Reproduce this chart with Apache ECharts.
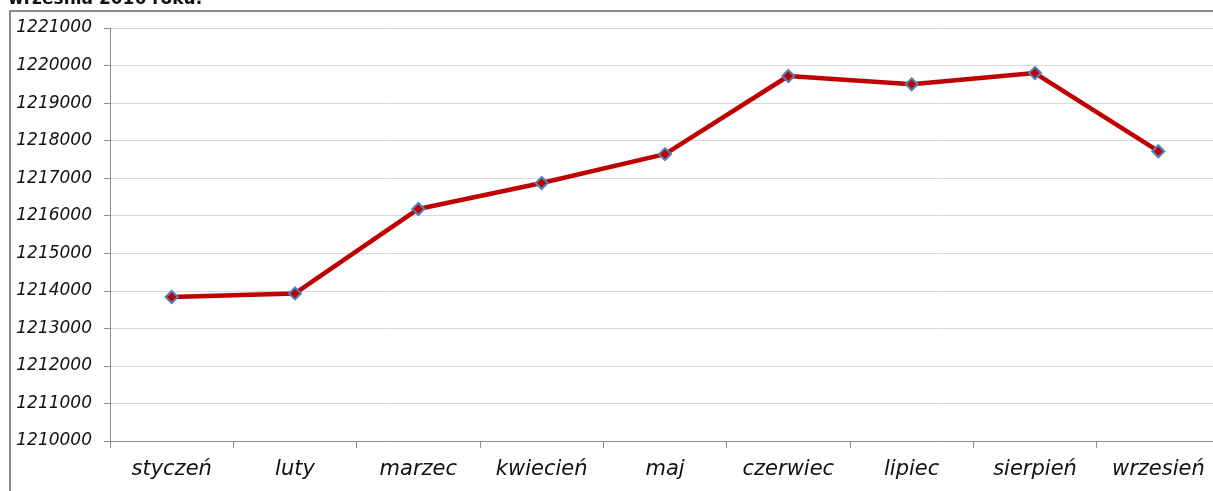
<!DOCTYPE html>
<html>
<head>
<meta charset="utf-8">
<script src="https://cdn.jsdelivr.net/npm/echarts@6/dist/echarts.min.js"></script>
<style>
  html, body { margin: 0; padding: 0; background: #fff; overflow: hidden; }
  #main { width: 1222px; height: 491px; }
</style>
</head>
<body>
<div id="main"></div>
<script>
// dane z wykresu
var months = ['styczeń', 'luty', 'marzec', 'kwiecień', 'maj', 'czerwiec', 'lipiec', 'sierpień', 'wrzesień'];
var values = [1213836, 1213930, 1216180, 1216870, 1217640, 1219722, 1219500, 1219800, 1217718];
var yMin = 1210000;
var yMax = 1221000;
var yStep = 1000;

var myChart = echarts.init(document.getElementById('main'));

var option = {
    backgroundColor: '#ffffff',
    animation: false,
    graphic: [
        {
            type: 'text',
            left: 8,
            top: -9,
            style: {
                text: 'września 2016 roku.',
                font: 'bold 17px "DejaVu Sans"',
                fill: '#111'
            }
        },
        {
            type: 'rect',
            shape: { x: 10, y: 11, width: 1240, height: 520 },
            style: { fill: 'none', stroke: '#8c8c8c', lineWidth: 2 },
            silent: true
        }
    ],
    grid: {
        left: 110,
        top: 28,
        bottom: 50,
        right: 2
    },
    xAxis: {
        type: 'category',
        data: months,
        boundaryGap: true,
        axisLine: { lineStyle: { color: '#8c8c8c', width: 1 } },
        axisTick: { show: true, interval: 0, length: 7, lineStyle: { color: '#8c8c8c' } },
        axisLabel: {
            interval: 0,
            hideOverlap: false,
            color: '#111',
            fontFamily: 'DejaVu Sans',
            fontStyle: 'italic',
            fontSize: 21,
            margin: 18
        }
    },
    yAxis: {
        type: 'value',
        min: yMin,
        max: yMax,
        interval: yStep,
        axisLine: { show: true, lineStyle: { color: '#8c8c8c', width: 1 } },
        axisTick: { show: true, length: 6, lineStyle: { color: '#8c8c8c' } },
        splitLine: { lineStyle: { color: '#d9d9d9', width: 1 } },
        axisLabel: {
            color: '#111',
            fontFamily: 'DejaVu Sans',
            fontStyle: 'italic',
            fontSize: 17,
            margin: 18,
            formatter: function (v) { return String(v); }
        }
    },
    series: [
        {
            type: 'line',
            data: values,
            symbol: 'diamond',
            symbolSize: 12,
            lineStyle: { color: '#c00000', width: 4.5 },
            itemStyle: { color: '#c00000', borderColor: '#4f81bd', borderWidth: 2 }
        }
    ]
};

myChart.setOption(option);
</script>
</body>
</html>
